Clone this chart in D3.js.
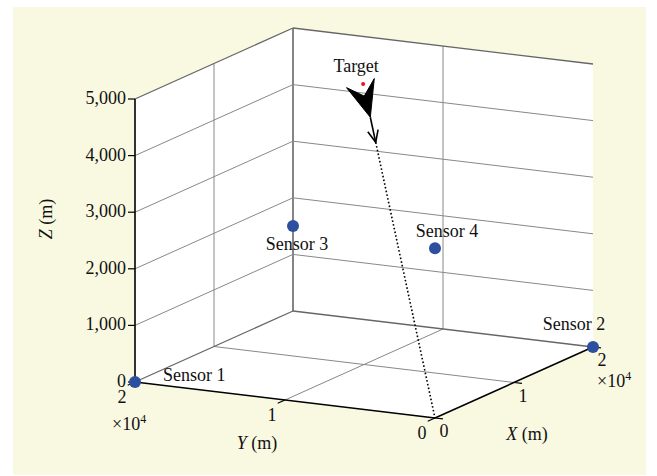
<!DOCTYPE html>
<html>
<head>
<meta charset="utf-8">
<script src="https://cdn.jsdelivr.net/npm/d3@7"></script>
<style>
  body { margin: 0; background: #fff; }
  svg text { font-family: "Liberation Serif", "Times New Roman", serif; font-size: 18px; fill: #111; }
</style>
</head>
<body>
<div id="chart"></div>
<script>
// sensor positions (m)
var sensorNames = ["Sensor 1", "Sensor 2", "Sensor 3", "Sensor 4"];
var sensorX = [0, 20000, 20000, 0];
var sensorY = [20000, 0, 20000, 0];
var sensorZ = [0, 0, 1500, 3000];

// target position and where its track heads to
var targetPos = [9700, 9900, 4980];
var trackEnd = [0, 0, 0];

// axis extents / ticks
var xDomain = [0, 20000], yDomain = [0, 20000], zDomain = [0, 5000];
var xyTicks = [0, 10000, 20000];
var zTicks = [0, 1000, 2000, 3000, 4000, 5000];

var W = 657, H = 476;
var svg = d3.select("#chart").append("svg")
    .attr("width", W).attr("height", H);

svg.append("rect")
    .attr("x", 13).attr("y", 7)
    .attr("width", 633).attr("height", 468)
    .attr("fill", "#f9f9e2");

// oblique projection: origin on screen plus a screen vector per axis
var origin = [435, 418];
var xS = d3.scaleLinear().domain(xDomain).range([0, 1]);
var yS = d3.scaleLinear().domain(yDomain).range([0, 1]);
var zS = d3.scaleLinear().domain(zDomain).range([0, 1]);
var ex = [158, -71], ey = [-300, -36], ez = [0, -283];

function proj(x, y, z) {
    var a = xS(x), b = yS(y), c = zS(z);
    return [origin[0] + a * ex[0] + b * ey[0] + c * ez[0],
            origin[1] + a * ex[1] + b * ey[1] + c * ez[1]];
}
var line = d3.line();
var xMax = xDomain[1], yMax = yDomain[1], zMax = zDomain[1];

// white box faces
svg.append("path")
    .attr("d", line([proj(0, yMax, 0), proj(0, yMax, zMax), proj(xMax, yMax, zMax),
        proj(xMax, 0, zMax), proj(xMax, 0, 0), proj(0, 0, 0)]) + "Z")
    .attr("fill", "#fff");

var grid = svg.append("g").attr("fill", "none");
function seg(p, q, col, w) {
    grid.append("path").attr("d", line([p, q]))
        .attr("stroke", col).attr("stroke-width", w);
}
var gridCol = "#888", edgeCol = "#666";

// floor grid
xyTicks.forEach(function(t) {
    if (t > 0 && t < xMax) seg(proj(t, 0, 0), proj(t, yMax, 0), gridCol, 1);
    if (t > 0 && t < yMax) seg(proj(0, t, 0), proj(xMax, t, 0), gridCol, 1);
});
// left wall (Y = max)
xyTicks.forEach(function(t) {
    if (t > 0 && t < xMax) seg(proj(t, yMax, 0), proj(t, yMax, zMax), gridCol, 1);
});
// right wall (X = max)
xyTicks.forEach(function(t) {
    if (t > 0) seg(proj(xMax, t, 0), proj(xMax, t, zMax), t === yMax ? edgeCol : gridCol, t === yMax ? 1.6 : 1);
});
zTicks.forEach(function(t) {
    if (t === 0) return;
    var w = t === zMax ? 1.3 : 1, c = t === zMax ? edgeCol : gridCol;
    seg(proj(0, yMax, t), proj(xMax, yMax, t), c, w);
    seg(proj(xMax, yMax, t), proj(xMax, 0, t), c, w);
});
seg(proj(0, yMax, 0), proj(xMax, yMax, 0), edgeCol, 1.3);
seg(proj(xMax, yMax, 0), proj(xMax, 0, 0), edgeCol, 1.6);

// axes
var axes = svg.append("g").attr("fill", "none").attr("stroke", "#000");
axes.append("path").attr("d", line([proj(0, yMax, 0), proj(0, yMax, zMax)])).attr("stroke-width", 1.6);
axes.append("path").attr("d", line([proj(0, yMax, 0), proj(0, 0, 0)])).attr("stroke-width", 1.6);
axes.append("path").attr("d", line([proj(0, 0, 0), proj(xMax, 0, 0)])).attr("stroke-width", 1.6);

var lab = svg.append("g");
var fmtZ = d3.format(",");

zTicks.forEach(function(t) {
    var p = proj(0, yMax, t);
    axes.append("path").attr("d", line([[p[0] - 7, p[1]], p])).attr("stroke-width", 1.2);
    lab.append("text").attr("x", p[0] - 9).attr("y", p[1] + 5)
        .attr("text-anchor", "end").text(fmtZ(t));
});

// Y axis ticks point along -X, X axis ticks along -Y
var ux = [ex[0] / Math.hypot(ex[0], ex[1]), ex[1] / Math.hypot(ex[0], ex[1])];
var uy = [ey[0] / Math.hypot(ey[0], ey[1]), ey[1] / Math.hypot(ey[0], ey[1])];
xyTicks.forEach(function(t) {
    var p = proj(0, t, 0);
    axes.append("path").attr("d", line([p, [p[0] - ux[0] * 8, p[1] - ux[1] * 8]])).attr("stroke-width", 1.2);
    lab.append("text").attr("x", p[0] - 13).attr("y", p[1] + 21)
        .attr("text-anchor", "middle").text(t / 1e4);
    var q = proj(t, 0, 0);
    axes.append("path").attr("d", line([q, [q[0] - uy[0] * 8, q[1] - uy[1] * 8]])).attr("stroke-width", 1.2);
    lab.append("text").attr("x", q[0] + 9).attr("y", q[1] + 19)
        .attr("text-anchor", "middle").text(t / 1e4);
});

function expLabel(x, y) {
    var t = lab.append("text").attr("x", x).attr("y", y);
    t.append("tspan").text("\u00d710");
    t.append("tspan").attr("dy", -7).style("font-size", "12px").text("4");
}
var py = proj(0, yMax, 0), px = proj(xMax, 0, 0);
expLabel(py[0] - 23, py[1] + 48);
expLabel(px[0] + 4, px[1] + 40);

function axisTitle(sel, letter) {
    sel.append("tspan").style("font-style", "italic").text(letter);
    sel.append("tspan").text(" (m)");
}
axisTitle(lab.append("text").attr("x", 257).attr("y", 449).attr("text-anchor", "middle"), "Y");
axisTitle(lab.append("text").attr("x", 527).attr("y", 440).attr("text-anchor", "middle"), "X");
axisTitle(lab.append("text").attr("transform", "translate(52,219) rotate(-90)").attr("text-anchor", "middle"), "Z");

// target track
var T = proj(targetPos[0], targetPos[1], targetPos[2]);
var E = proj(trackEnd[0], trackEnd[1], trackEnd[2]);
function along(f) { return [T[0] + (E[0] - T[0]) * f, T[1] + (E[1] - T[1]) * f]; }
var len = Math.hypot(E[0] - T[0], E[1] - T[1]);
var u = [(E[0] - T[0]) / len, (E[1] - T[1]) / len];
var n = [u[1], -u[0]];
function off(p, a, b) { return [p[0] + u[0] * a + n[0] * b, p[1] + u[1] * a + n[1] * b]; }

var headTip = along(0.10), arrowTip = along(0.175);
var trk = svg.append("g");
trk.append("path").attr("d", line([arrowTip, E]))
    .attr("stroke", "#000").attr("stroke-width", 1.6)
    .attr("stroke-dasharray", "1.6,2.2").attr("fill", "none");
trk.append("path").attr("d", line([headTip, arrowTip]))
    .attr("stroke", "#000").attr("stroke-width", 1.6).attr("fill", "none");
trk.append("path").attr("d", line([off(arrowTip, -12, -5.5), arrowTip, off(arrowTip, -12, 5)]))
    .attr("stroke", "#000").attr("stroke-width", 1.6).attr("fill", "none");
trk.append("path")
    .attr("d", line([headTip, off(headTip, -34, -17), off(headTip, -22, -1.5), off(headTip, -37, 12)]) + "Z")
    .attr("fill", "#000").attr("stroke", "#000").attr("stroke-width", 1);
trk.append("circle").attr("cx", T[0]).attr("cy", T[1]).attr("r", 2).attr("fill", "#e8141e");
lab.append("text").attr("x", T[0] - 7).attr("y", T[1] - 12)
    .attr("text-anchor", "middle").text("Target");

// sensors
var labelOff = [[28, -1, "start"], [-19, -17, "middle"], [4, 24, "middle"], [12, -11, "middle"]];
var sensors = sensorNames.map(function(d, i) {
    return { name: d, p: proj(sensorX[i], sensorY[i], sensorZ[i]), o: labelOff[i] };
});
svg.append("g").selectAll("circle").data(sensors).enter().append("circle")
    .attr("cx", function(d) { return d.p[0]; })
    .attr("cy", function(d) { return d.p[1]; })
    .attr("r", 6)
    .attr("fill", "#2d4f9f");
lab.raise();
lab.selectAll(".slab").data(sensors).enter().append("text")
    .attr("class", "slab")
    .attr("x", function(d) { return d.p[0] + d.o[0]; })
    .attr("y", function(d) { return d.p[1] + d.o[1]; })
    .attr("text-anchor", function(d) { return d.o[2]; })
    .text(function(d) { return d.name; });
</script>
</body>
</html>
